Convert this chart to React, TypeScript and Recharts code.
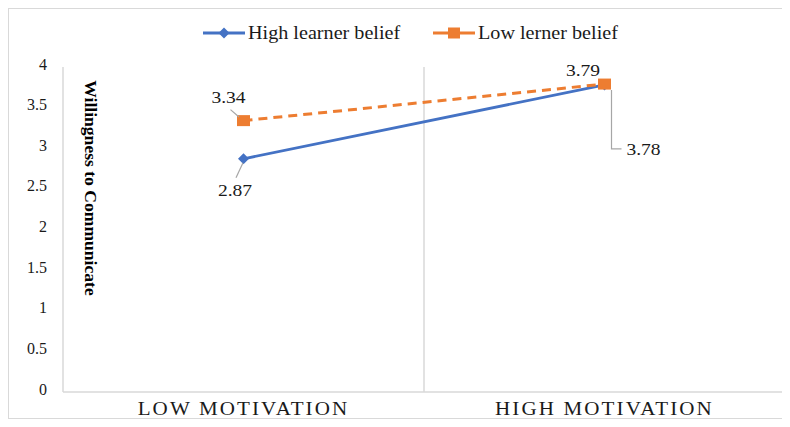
import React from 'react';
import { LineChart, Line, XAxis, YAxis, Legend, ReferenceLine, LabelList, Label } from 'recharts';

const categories = ['LOW MOTIVATION', 'HIGH MOTIVATION'];
const highBelief = [2.87, 3.78];
const lowBelief = [3.34, 3.79];
const yTicks = [0, 0.5, 1, 1.5, 2, 2.5, 3, 3.5, 4];
const seriesNames = ['High learner belief', 'Low lerner belief'];
const yTitle = 'Willingness to Communicate';

const BLUE = '#4472C4';
const ORANGE = '#ED7D31';
const GRID = '#d9d9d9';
const LEADER = '#a6a6a6';
const TEXT = '#1a1a1a';
const SERIF = '"Liberation Serif", "Times New Roman", serif';

const data = categories.map((c, i) => ({ category: c, high: highBelief[i], low: lowBelief[i] }));

// label placement relative to each point (dx, dy = text centre) + optional leader polyline
const highLabelPos = [
  { dx: -8.5, dy: 31, leader: [[-0.5, 4], [-7.5, 19]] },
  { dx: 39, dy: 64, leader: [[7, 5], [7, 64], [17, 64]] },
];
const lowLabelPos = [
  { dx: -15, dy: -23.5, leader: [[-13, -11], [-4.5, -3.6]] },
  { dx: -21.5, dy: -14, leader: null },
];

const makeLabel = (pos: any[]) => (props: any) => {
  const { x, y, index, value } = props;
  const p = pos[index];
  if (!p) return null;
  return (
    <g key={`lbl-${index}`}>
      {p.leader && (
        <polyline
          points={p.leader.map((q: number[]) => `${x + q[0]},${y + q[1]}`).join(' ')}
          fill="none"
          stroke={LEADER}
          strokeWidth={1.2}
        />
      )}
      <text
        transform={`translate(${x + p.dx},${y + p.dy + 5.8}) scale(1.15,1)`}
        textAnchor="middle"
        fontSize={17}
        fontFamily={SERIF}
        fill={TEXT}
      >
        {Number(value).toFixed(2)}
      </text>
    </g>
  );
};

const Diamond = (props: any) => {
  const { cx, cy, index } = props;
  if (cx == null || cy == null) return <g key={`d-${index}`} />;
  return <path key={`d-${index}`} d={`M${cx},${cy - 5.5} L${cx + 5.5},${cy} L${cx},${cy + 5.5} L${cx - 5.5},${cy} Z`} fill={BLUE} />;
};

const Square = (props: any) => {
  const { cx, cy, index } = props;
  if (cx == null || cy == null) return <g key={`s-${index}`} />;
  return <rect key={`s-${index}`} x={cx - 6.5} y={cy - 5.5} width={13} height={11} fill={ORANGE} />;
};

const XTick = (props: any) => {
  const { x, y, payload } = props;
  return (
    <text
      transform={`translate(${x},${y + 23}) scale(1.17,1)`}
      textAnchor="middle"
      fontSize={18}
      letterSpacing={1.8}
      fontFamily={SERIF}
      fill={TEXT}
    >
      {payload.value}
    </text>
  );
};

const YTick = (props: any) => {
  const { x, y, payload } = props;
  return (
    <text x={x} y={y + 2.5} textAnchor="end" fontSize={16} fontFamily={SERIF} fill={TEXT}>
      {payload.value}
    </text>
  );
};

const renderLegend = (props: any) => {
  const { payload } = props;
  const starts = [194, 424];
  return (
    <svg width={781} height={24} style={{ display: 'block' }}>
      {(payload || []).map((entry: any, i: number) => {
        const x0 = starts[i];
        const cy = 12;
        const cx = x0 + 21;
        return (
          <g key={`leg-${i}`}>
            <line x1={x0} y1={cy} x2={x0 + 42} y2={cy} stroke={entry.color} strokeWidth={3} />
            {i === 0 ? (
              <path d={`M${cx},${cy - 5.5} L${cx + 5.5},${cy} L${cx},${cy + 5.5} L${cx - 5.5},${cy} Z`} fill={entry.color} />
            ) : (
              <rect x={cx - 6} y={cy - 5.5} width={12} height={11} fill={entry.color} />
            )}
            <text
              transform={`translate(${x0 + 45},${cy + 6}) scale(1.12,1)`}
              fontSize={18}
              fontFamily={SERIF}
              fill={TEXT}
            >
              {entry.value}
            </text>
          </g>
        );
      })}
    </svg>
  );
};

export default function App() {
  return (
    <div
      style={{
        width: 782,
        height: 411,
        boxSizing: 'border-box',
        borderTop: `1px solid ${GRID}`,
        borderLeft: `1px solid ${GRID}`,
        borderBottom: `1px solid ${GRID}`,
        background: '#fff',
      }}
    >
      <LineChart width={781} height={409} data={data} margin={{ top: 34, right: 5, bottom: 0, left: 0 }}>
        <Legend verticalAlign="top" content={renderLegend} wrapperStyle={{ top: 12, left: 0 }} />
        <XAxis
          dataKey="category"
          scale="band"
          height={26}
          axisLine={{ stroke: GRID, strokeWidth: 1.5 }}
          tickLine={false}
          tickSize={0}
          tickMargin={0}
          tick={<XTick />}
        />
        <YAxis
          domain={[0, 4]}
          ticks={yTicks}
          width={54}
          axisLine={{ stroke: GRID, strokeWidth: 1.5 }}
          tickLine={false}
          tickSize={0}
          tickMargin={16}
          tick={<YTick />}
        >
          <Label
            content={(p: any) => {
              const vb = p.viewBox || { x: 0, y: 58, width: 54 };
              const cx = vb.x + vb.width + 27.5;
              const cy = vb.y + 121;
              return (
                <text
                  transform={`translate(${cx},${cy}) rotate(90) scale(1.1,1)`}
                  textAnchor="middle"
                  dominantBaseline="central"
                  fontSize={16}
                  fontWeight="bold"
                  fontFamily={SERIF}
                  fill="#000"
                >
                  {yTitle}
                </text>
              );
            }}
          />
        </YAxis>
        <ReferenceLine x={categories[1]} position="start" stroke={GRID} strokeWidth={1.5} />
        <ReferenceLine x={categories[1]} position="end" stroke={GRID} strokeWidth={1.5} />
        <Line
          name={seriesNames[0]}
          dataKey="high"
          stroke={BLUE}
          strokeWidth={2.8}
          dot={Diamond}
          activeDot={false}
          isAnimationActive={false}
        >
          <LabelList dataKey="high" content={makeLabel(highLabelPos)} />
        </Line>
        <Line
          name={seriesNames[1]}
          dataKey="low"
          stroke={ORANGE}
          strokeWidth={3}
          strokeDasharray="9 6"
          dot={Square}
          activeDot={false}
          isAnimationActive={false}
        >
          <LabelList dataKey="low" content={makeLabel(lowLabelPos)} />
        </Line>
      </LineChart>
    </div>
  );
}
